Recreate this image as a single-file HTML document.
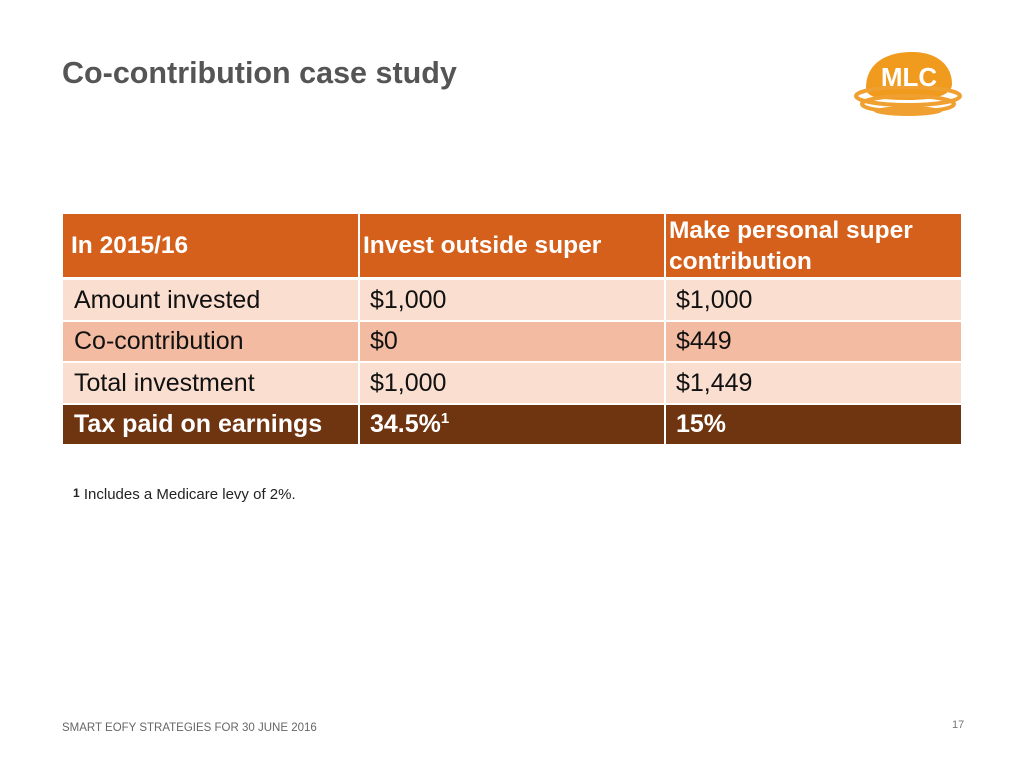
<!DOCTYPE html>
<html><head><meta charset="utf-8"><style>
body{margin:0;width:1024px;height:768px;background:#fff;position:relative;font-family:"Liberation Sans",Arial,sans-serif;overflow:hidden}
.a{position:absolute}
.c{position:absolute;box-sizing:border-box;display:flex;align-items:center;font-size:25px;color:#111}
.h{background:#D5601B;color:#fff;font-weight:bold;font-size:24.5px}
.l{background:#FADED0}
.m{background:#F3BCA2}
.d{background:#6F3410;color:#fff;font-weight:bold}
</style></head><body>
<div class="a" style="left:62px;top:56px;font-size:30.5px;font-weight:bold;color:#555">Co-contribution case study</div>
<svg class="a" style="left:852px;top:44px" width="112" height="80" viewBox="0 0 112 80">
<path d="M14 44 C14 18 36 8 60 8 C86 8 100 22 100 40 C100 52 80 56 56 56 C30 56 14 54 14 44 Z" fill="#F09A1E"/>
<ellipse cx="56" cy="52" rx="52" ry="9" fill="none" stroke="#F0A030" stroke-width="4"/>
<ellipse cx="56" cy="60" rx="46" ry="8" fill="none" stroke="#F0A030" stroke-width="4"/>
<ellipse cx="56" cy="67" rx="34" ry="5" fill="#F0A030"/>
<text x="57" y="42" text-anchor="middle" font-family="Liberation Sans" font-weight="bold" font-size="26" fill="#fff">MLC</text>
</svg>
<div>
<div class="c h" style="left:63px;top:214px;width:295px;height:63px;padding-left:8px">In 2015/16</div>
<div class="c h" style="left:360px;top:214px;width:304px;height:63px;padding-left:3px">Invest outside super</div>
<div class="c h" style="left:666px;top:214px;width:295px;height:63px;padding-left:3px;line-height:31px">Make personal super<br>contribution</div>

<div class="c l" style="left:63px;top:280px;width:295px;height:40px;padding-left:11px">Amount invested</div>
<div class="c l" style="left:360px;top:280px;width:304px;height:40px;padding-left:10px">$1,000</div>
<div class="c l" style="left:666px;top:280px;width:295px;height:40px;padding-left:10px">$1,000</div>

<div class="c m" style="left:63px;top:322px;width:295px;height:39px;padding-left:11px">Co-contribution</div>
<div class="c m" style="left:360px;top:322px;width:304px;height:39px;padding-left:10px">$0</div>
<div class="c m" style="left:666px;top:322px;width:295px;height:39px;padding-left:10px">$449</div>

<div class="c l" style="left:63px;top:363px;width:295px;height:40px;padding-left:11px">Total investment</div>
<div class="c l" style="left:360px;top:363px;width:304px;height:40px;padding-left:10px">$1,000</div>
<div class="c l" style="left:666px;top:363px;width:295px;height:40px;padding-left:10px">$1,449</div>

<div class="c d" style="left:63px;top:405px;width:295px;height:39px;padding-left:11px">Tax paid on earnings</div>
<div class="c d" style="left:360px;top:405px;width:304px;height:39px;padding-left:10px">34.5%<sup style="font-size:15px;align-self:flex-start;margin-top:5px">1</sup></div>
<div class="c d" style="left:666px;top:405px;width:295px;height:39px;padding-left:10px">15%</div>
</div>
<div class="a" style="left:73px;top:486px;font-size:15px;color:#222"><b style="font-size:12px;vertical-align:2px">1</b> Includes a Medicare levy of 2%.</div>
<div class="a" style="left:62px;top:722px;font-size:11.5px;color:#666">SMART EOFY STRATEGIES FOR 30 JUNE 2016</div>
<div class="a" style="left:952px;top:719px;font-size:11px;color:#777">17</div>
</body></html>
